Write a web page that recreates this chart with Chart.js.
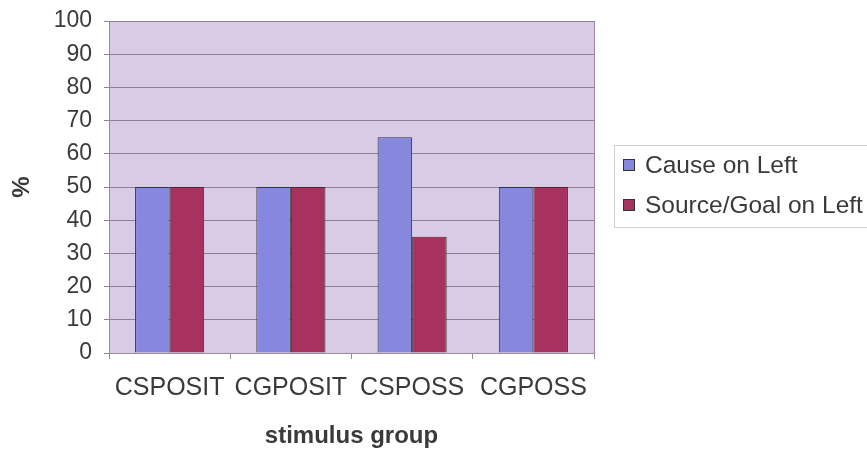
<!DOCTYPE html>
<html>
<head>
<meta charset="utf-8">
<script src="https://cdn.jsdelivr.net/npm/chart.js@4"></script>
<style>
  html, body { margin: 0; padding: 0; background: #fff; }
  #wrap { width: 867px; height: 451px; }
</style>
</head>
<body>
<div id="wrap"><canvas id="barchart" width="867" height="451"></canvas></div>
<script>
const categories = ['CSPOSIT', 'CGPOSIT', 'CSPOSS', 'CGPOSS'];
const causeLeft = [50, 50, 65, 50];
const sourceGoalLeft = [50, 50, 35, 50];
const yTicks = [0, 10, 20, 30, 40, 50, 60, 70, 80, 90, 100];

const FONT = "'Liberation Sans', Arial, sans-serif";

// plot background + frame
const plotBg = {
    id: 'plotBg',
    beforeDraw(chart) {
        const a = chart.chartArea, c = chart.ctx;
        c.save();
        c.fillStyle = '#d7cbe6';
        c.fillRect(a.left, a.top, a.right - a.left, a.bottom - a.top);
        c.restore();
    },
    afterDatasetsDraw(chart) {
        const a = chart.chartArea, c = chart.ctx;
        c.save();
        c.strokeStyle = '#9a889e';
        c.lineWidth = 1;
        c.beginPath();
        c.moveTo(a.right + 0.5, a.top);
        c.lineTo(a.right + 0.5, a.bottom);
        c.stroke();
        c.restore();
    }
};

// legend drawn Excel style, with a thin box
const boxLegend = {
    id: 'boxLegend',
    afterDraw(chart) {
        const c = chart.ctx;
        c.save();
        c.strokeStyle = '#d0d0d0';
        c.lineWidth = 1;
        c.strokeRect(614.5, 145.5, 270, 82);
        c.font = '24.5px ' + FONT;
        c.textBaseline = 'middle';
        chart.data.datasets.forEach(function(ds, i) {
            const y = 165 + i * 40;
            c.fillStyle = ds.backgroundColor;
            c.fillRect(623, y - 6, 12, 12);
            c.strokeStyle = '#333';
            c.strokeRect(623.5, y - 5.5, 11, 11);
            c.fillStyle = '#3a3a3a';
            c.fillText(ds.label, 645, y + 1);
        });
        c.restore();
    }
};

document.addEventListener("DOMContentLoaded", function() {
    const ctx = document.getElementById('barchart');

    new Chart(ctx, {
        type: 'bar',
        data: {
            labels: categories,
            datasets: [
                {
                    label: 'Cause on Left',
                    backgroundColor: '#8688dd',
                    borderColor: '#333',
                    borderWidth: 1,
                    data: causeLeft
                },
                {
                    label: 'Source/Goal on Left',
                    backgroundColor: '#a8325f',
                    borderColor: '#333',
                    borderWidth: 1,
                    data: sourceGoalLeft
                }
            ]
        },
        options: {
            responsive: false,
            animation: false,
            layout: { padding: { left: 0, right: 273, top: 21, bottom: 0 } },
            datasets: {
                bar: { barPercentage: 1, categoryPercentage: 0.57 }
            },
            plugins: {
                legend: { display: false },
                tooltip: { enabled: false }
            },
            scales: {
                x: {
                    grid: {
                        offset: true,
                        drawOnChartArea: false,
                        tickLength: 6,
                        color: '#9a889e'
                    },
                    border: { color: '#9a889e' },
                    ticks: {
                        color: '#3a3a3a',
                        padding: 14,
                        font: { family: FONT, size: 25 }
                    },
                    title: {
                        display: true,
                        text: 'stimulus group',
                        color: '#3a3a3a',
                        padding: { top: 0, bottom: 0 },
                        font: { family: FONT, size: 24, weight: 'bold' }
                    },
                    afterFit(scale) {
                        scale.height = 98;
                        scale.paddingLeft = 0;
                        scale.paddingRight = 0;
                    }
                },
                y: {
                    min: 0,
                    max: 100,
                    afterBuildTicks(scale) {
                        scale.ticks = yTicks.map(function(v) { return { value: v }; });
                    },
                    afterFit(scale) {
                        scale.width = 109;
                        scale.paddingTop = 0;
                        scale.paddingBottom = 0;
                    },
                    grid: {
                        color: '#8f7f92',
                        tickLength: 5
                    },
                    border: { color: '#9a889e' },
                    ticks: {
                        color: '#3a3a3a',
                        padding: 12,
                        font: { family: FONT, size: 23 }
                    },
                    title: {
                        display: true,
                        text: '%',
                        color: '#3a3a3a',
                        padding: { top: 8, bottom: 0 },
                        font: { family: FONT, size: 24, weight: 'bold' }
                    }
                }
            }
        },
        plugins: [plotBg, boxLegend]
    });
});
</script>
</body>
</html>
